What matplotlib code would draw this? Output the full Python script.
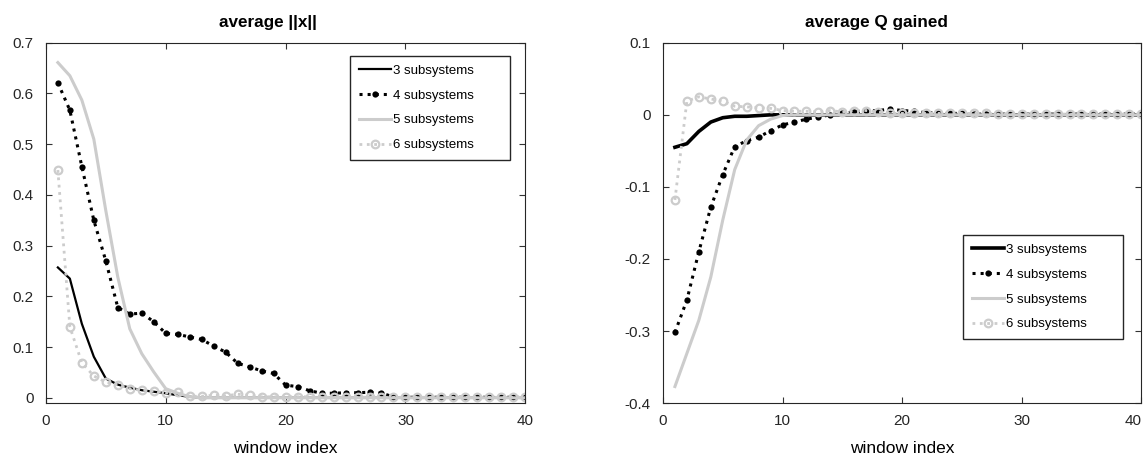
import numpy as np
import matplotlib
matplotlib.use('Agg')
import matplotlib.pyplot as plt
from matplotlib.transforms import ScaledTranslation

plt.rcParams['font.family'] = ['Liberation Sans', 'DejaVu Sans']
plt.rcParams['font.size'] = 11

windows = np.arange(1, 41)
labels = ['3 subsystems', '4 subsystems', '5 subsystems', '6 subsystems']

# average ||x||
x_s3 = [0.257, 0.235, 0.146, 0.081, 0.038, 0.026, 0.020, 0.015, 0.012, 0.009,
        0.005, 0.002] + [0.0] * 28
x_s4 = [0.621, 0.567, 0.456, 0.350, 0.270, 0.178, 0.165, 0.167, 0.150, 0.127,
        0.125, 0.120, 0.115, 0.102, 0.090, 0.068, 0.061, 0.053, 0.048, 0.025,
        0.022, 0.014, 0.009, 0.009, 0.010, 0.010, 0.011, 0.009, 0.002, 0.001,
        0.001, 0.001, 0.001, 0.001, 0.001, 0.001, 0.001, 0.001, 0.001, 0.001]
x_s5 = [0.661, 0.635, 0.587, 0.510, 0.369, 0.238, 0.136, 0.087, 0.051, 0.018,
        0.009, 0.002] + [0.0] * 28
x_s6 = [0.449, 0.140, 0.069, 0.043, 0.031, 0.026, 0.018, 0.015, 0.013, 0.010,
        0.012, 0.003, 0.003, 0.005, 0.004, 0.007, 0.005, 0.002, 0.002, 0.002,
        0.002, 0.002, 0.001, 0.001, 0.001, 0.001, 0.001, 0.001, 0.001, 0.001,
        0.001, 0.001, 0.001, 0.001, 0.001, 0.001, 0.001, 0.001, 0.001, 0.001]

# average Q gained
q_s3 = [-0.045, -0.040, -0.023, -0.010, -0.004, -0.002, -0.002, -0.001] + [0.0] * 32
q_s4 = [-0.302, -0.257, -0.190, -0.128, -0.083, -0.044, -0.036, -0.031, -0.022, -0.014,
        -0.010, -0.006, -0.003, 0.000, 0.002, 0.004, 0.005, 0.006, 0.008, 0.006,
        0.005, 0.003, 0.002, 0.002, 0.002, 0.001, 0.001, 0.001, 0.001, 0.001,
        0.001, 0.001, 0.001, 0.001, 0.001, 0.001, 0.001, 0.001, 0.001, 0.001]
q_s5 = [-0.377, -0.331, -0.285, -0.225, -0.146, -0.076, -0.035, -0.015, -0.006, -0.001] + [0.0] * 30
q_s6 = [-0.118, 0.019, 0.025, 0.022, 0.019, 0.012, 0.011, 0.010, 0.009, 0.006,
        0.005, 0.005, 0.004, 0.006, 0.004, 0.006, 0.006, 0.004, 0.002, 0.002,
        0.002, 0.002, 0.002, 0.002, 0.002, 0.002, 0.002, 0.001, 0.001, 0.001,
        0.001, 0.001, 0.001, 0.001, 0.001, 0.001, 0.001, 0.001, 0.001, 0.001]

gray = '#cccccc'

fig = plt.figure(figsize=(11.47, 4.55), dpi=100)
ax1 = fig.add_axes([0.040, 0.114, 0.418, 0.792])
ax2 = fig.add_axes([0.578, 0.114, 0.417, 0.792])


def draw(ax, s3, s4, s5, s6, lw3):
    ax.plot(windows, s3, color='black', lw=lw3, label=labels[0])
    ax.plot(windows, s4, color='black', lw=2.2, ls=':', marker='o', ms=4.5,
            markeredgewidth=0, markerfacecolor='black', label=labels[1])
    ax.plot(windows, s5, color=gray, lw=2.2, label=labels[2])
    ax.plot(windows, s6, color=gray, lw=2, ls=':', marker='o', ms=5.5,
            markerfacecolor='none', markeredgewidth=1.6, label=labels[3])
    ax.set_xlim(0, 40)
    ax.set_xticks([0, 10, 20, 30, 40])
    ax.set_xlabel('window index', fontsize=12.5, labelpad=9)
    ax.tick_params(direction='in', top=True, right=True, length=4, labelsize=11,
                   color='#333333', labelcolor='#262626')
    ax.tick_params(axis='x', pad=8)
    ax.tick_params(axis='y', pad=9)
    for sp in ax.spines.values():
        sp.set_color('#262626')
        sp.set_linewidth(0.8)


def legend(ax, box):
    ax.legend(loc='upper left', bbox_to_anchor=box, mode='expand', fancybox=False,
              edgecolor='#262626', framealpha=1, fontsize=9.5, handlelength=2.4,
              handletextpad=0.2, borderpad=0.65, borderaxespad=0,
              labelspacing=0.95)


draw(ax1, x_s3, x_s4, x_s5, x_s6, 1.6)
ax1.set_ylim(-0.0105, 0.7)
ax1.set_yticks([0, 0.1, 0.2, 0.3, 0.4, 0.5, 0.6, 0.7])
ax1.set_yticklabels(['0', '0.1', '0.2', '0.3', '0.4', '0.5', '0.6', '0.7'])
ax1.set_title('average ||x||', fontweight='bold', fontsize=12.3, pad=11, x=0.463)
legend(ax1, (0.635, 0.674, 0.334, 0.289))

draw(ax2, q_s3, q_s4, q_s5, q_s6, 2.6)
ax2.set_ylim(-0.4, 0.1)
ax2.set_yticks([-0.4, -0.3, -0.2, -0.1, 0, 0.1])
ax2.set_yticklabels(['-0.4', '-0.3', '-0.2', '-0.1', '0', '0.1'])
ax2.set_title('average Q gained', fontweight='bold', fontsize=12.3, pad=11, x=0.446)
legend(ax2, (0.628, 0.178, 0.334, 0.288))

# keep the last tick label of the right plot inside the figure
last = ax2.get_xticklabels()[-1]
last.set_transform(last.get_transform() + ScaledTranslation(-0.08, 0, fig.dpi_scale_trans))

fig.savefig('out.png', dpi=100)
